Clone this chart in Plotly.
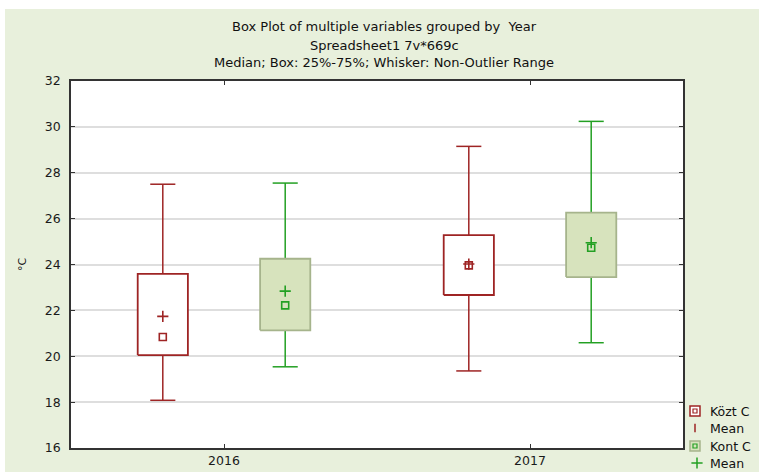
import plotly.graph_objects as go

# Summary statistics per year (°C)
years = ["2016", "2017"]

kozt_min = [18.08, 19.36]
kozt_q1 = [20.05, 22.67]
kozt_med = [20.84, 23.96]
kozt_mean = [21.74, 24.02]
kozt_q3 = [23.59, 25.28]
kozt_max = [27.50, 29.15]

kont_min = [19.54, 20.59]
kont_q1 = [21.13, 23.45]
kont_med = [22.22, 24.73]
kont_mean = [22.84, 24.95]
kont_q3 = [24.25, 26.26]
kont_max = [27.55, 30.24]

RED = "#9e2424"
GREEN = "#23a023"
GREEN_FILL = "#d7e3bd"
GREEN_EDGE = "#a6b48c"
BG = "#e8f0dc"
FONT = "DejaVu Sans, Verdana, Arial"

BOX_HALF = 0.082
CAP_HALF = 0.041

fig = go.Figure()


def add_group(offset, mins, q1s, meds, means, q3s, maxs, line_col, fill_col, edge_col, med_fill):
    for i in range(len(years)):
        xc = i + offset
        # whisker stem + caps
        fig.add_trace(go.Scatter(
            x=[xc, xc, None, xc, xc, None,
               xc - CAP_HALF, xc + CAP_HALF, None, xc - CAP_HALF, xc + CAP_HALF],
            y=[maxs[i], q3s[i], None, q1s[i], mins[i], None,
               maxs[i], maxs[i], None, mins[i], mins[i]],
            mode="lines", line=dict(color=line_col, width=1.5),
            showlegend=False, hoverinfo="skip"))
        # box 25%-75%
        fig.add_trace(go.Scatter(
            x=[xc - BOX_HALF, xc + BOX_HALF, xc + BOX_HALF, xc - BOX_HALF, xc - BOX_HALF],
            y=[q1s[i], q1s[i], q3s[i], q3s[i], q1s[i]],
            mode="lines", fill="toself", fillcolor=fill_col,
            line=dict(color=edge_col, width=1.8),
            showlegend=False, hoverinfo="skip"))
    xs = [i + offset for i in range(len(years))]
    # median
    fig.add_trace(go.Scatter(
        x=xs, y=meds, mode="markers",
        marker=dict(symbol="square", size=7, color=med_fill,
                    line=dict(color=line_col, width=1.6)),
        showlegend=False))
    # mean
    fig.add_trace(go.Scatter(
        x=xs, y=means, mode="markers",
        marker=dict(symbol="cross-thin", size=8,
                    line=dict(color=line_col, width=1.6)),
        showlegend=False))


add_group(-0.2, kozt_min, kozt_q1, kozt_med, kozt_mean, kozt_q3, kozt_max,
          RED, "white", RED, "white")
add_group(0.2, kont_min, kont_q1, kont_med, kont_mean, kont_q3, kont_max,
          GREEN, GREEN_FILL, GREEN_EDGE, GREEN_FILL)

# ---- page geometry (pixels) ----
L, R, T, B = 71, 1, 81, 1
W, H = 759 - L - R, 472 - T - B
PLOT_RIGHT, PLOT_BOTTOM = 683, 448


def px_x(p):
    return (p - L) / W


def px_y(p):
    return (472 - B - p) / H


# ---- legend drawn on a hidden pixel-scaled axis pair in the right margin ----
leg_x2 = dict(domain=[px_x(686), 1], range=[686, 758], visible=False,
              showgrid=False, zeroline=False, anchor="y2", fixedrange=True)
leg_y2 = dict(domain=[0, px_y(400)], range=[471, 400], visible=False,
              showgrid=False, zeroline=False, anchor="x2", fixedrange=True)

legend_rows = [
    ("Közt C", 411), ("Mean", 428), ("Kont C", 446), ("Mean", 463),
]
SYM_X, TXT_X = 695, 708


def leg_marker(y, **marker):
    fig.add_trace(go.Scatter(x=[SYM_X], y=[y], xaxis="x2", yaxis="y2",
                             mode="markers", marker=marker,
                             showlegend=False, hoverinfo="skip"))


# Közt C: square with inner square
leg_marker(legend_rows[0][1], symbol="square", size=10, color="white",
           line=dict(color=RED, width=1.5))
leg_marker(legend_rows[0][1], symbol="square", size=4, color="white",
           line=dict(color=RED, width=1.2))
# red mean tick
leg_marker(legend_rows[1][1], symbol="line-ns", size=6,
           line=dict(color=RED, width=1.5))
# Kont C: filled square with inner square
leg_marker(legend_rows[2][1], symbol="square", size=10, color=GREEN_FILL,
           line=dict(color=GREEN_EDGE, width=1.5))
leg_marker(legend_rows[2][1], symbol="square", size=4, color=GREEN_FILL,
           line=dict(color=GREEN, width=1.2))
# green mean cross
fig.add_trace(go.Scatter(x=[SYM_X + 2], y=[legend_rows[3][1]], xaxis="x2", yaxis="y2",
                         mode="markers",
                         marker=dict(symbol="cross-thin", size=8,
                                     line=dict(color=GREEN, width=1.5)),
                         showlegend=False, hoverinfo="skip"))

annotations = []
for txt, y in legend_rows:
    annotations.append(dict(text=txt, xref="x2", yref="y2", x=TXT_X, y=y,
                            xanchor="left", yanchor="middle", showarrow=False,
                            font=dict(family=FONT, size=12.5, color="#111")))

# light green frame around the plot area (white page margin at top/left)
frame = [
    (5, 9, 759, T),                       # top band
    (5, PLOT_BOTTOM, 759, 472),           # bottom band
    (5, T, L, PLOT_BOTTOM),               # left band
    (PLOT_RIGHT, T, 759, PLOT_BOTTOM),    # right band
]
shapes = []
for x0, y0, x1, y1 in frame:
    shapes.append(dict(type="rect", xref="paper", yref="paper",
                       x0=px_x(x0), x1=px_x(x1), y0=px_y(y1), y1=px_y(y0),
                       fillcolor=BG, line=dict(width=0), layer="below"))

title_lines = [
    ("Box Plot of multiple variables grouped by  Year", 26),
    ("Spreadsheet1 7v*669c", 45),
    ("Median; Box: 25%-75%; Whisker: Non-Outlier Range", 63),
]
for txt, py in title_lines:
    annotations.append(dict(text=txt, xref="paper", yref="paper",
                            x=px_x(384), y=px_y(py), xanchor="center", yanchor="middle",
                            showarrow=False,
                            font=dict(family=FONT, size=13, color="#111")))
annotations.append(dict(text="°C", xref="paper", yref="paper",
                        x=px_x(22), y=px_y(264), xanchor="center", yanchor="middle",
                        textangle=-90, showarrow=False,
                        font=dict(family=FONT, size=11, color="#111")))

fig.update_layout(
    width=759, height=472,
    margin=dict(l=L, r=R, t=T, b=B, autoexpand=False),
    paper_bgcolor="white",
    plot_bgcolor="white",
    font=dict(family=FONT, size=12, color="#111"),
    shapes=shapes,
    annotations=annotations,
    showlegend=False,
    xaxis=dict(domain=[0, px_x(PLOT_RIGHT)],
               range=[-0.5, 1.5], tickvals=[0, 1], ticktext=years,
               ticks="inside", ticklen=4, tickwidth=1.4, tickcolor="#333",
               showgrid=False, zeroline=False,
               tickfont=dict(size=12.5, color="#1a1a1a"),
               showline=True, mirror="ticks", linecolor="#333", linewidth=1.6),
    yaxis=dict(domain=[px_y(PLOT_BOTTOM), 1],
               range=[16, 32], dtick=2, tick0=16,
               ticks="inside", ticklen=4, tickwidth=1.4, tickcolor="#333",
               showgrid=True, gridcolor="#dedede", gridwidth=1.5,
               zeroline=False, ticklabelstandoff=6,
               tickfont=dict(size=12.5, color="#1a1a1a"),
               showline=True, mirror="ticks", linecolor="#333", linewidth=1.6),
    xaxis2=leg_x2,
    yaxis2=leg_y2,
)

fig.write_html("out.html")
